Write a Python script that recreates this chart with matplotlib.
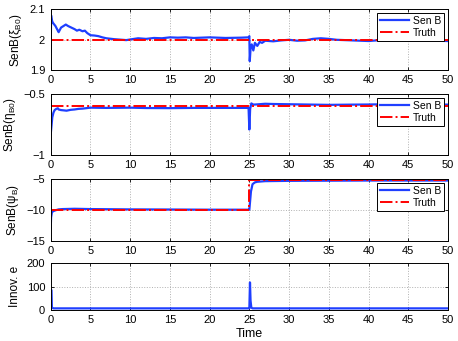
import matplotlib
matplotlib.use("Agg")
import matplotlib.pyplot as plt

plt.rcParams['font.family'] = ['Liberation Sans', 'DejaVu Sans']
plt.rcParams['mathtext.fontset'] = 'custom'
plt.rcParams['mathtext.rm'] = 'Liberation Sans'
plt.rcParams['mathtext.it'] = 'Liberation Sans'

# ---- data ----
xi_t = [0, 0.05, 0.1, 0.2, 0.3, 0.45, 0.6, 0.8, 1.0, 1.1, 1.3, 1.6, 1.9, 2.2, 2.6, 3.0, 3.3, 3.6, 4.0, 4.3,
        4.6, 5.0, 5.5, 6.0, 6.5, 7.0, 8.0, 9.0, 9.5, 10.0, 11.0, 12.0, 13.0, 14.0, 15.0, 16.0, 17.0, 18.0,
        20.0, 22.0, 24.0, 24.9, 25.0, 25.05, 25.15, 25.3, 25.5, 25.7, 26.0, 26.3, 26.6, 27.0, 28.0, 29.0,
        30.0, 31.0, 32.0, 33.0, 34.0, 35.0, 36.0, 37.0, 38.0, 40.0, 41.0, 42.0, 44.0, 46.0, 48.0, 50.0]
xi_v = [1.96, 2.08, 2.07, 2.06, 2.055, 2.05, 2.045, 2.035, 2.025, 2.03, 2.04, 2.045, 2.05, 2.045, 2.04,
        2.035, 2.03, 2.033, 2.028, 2.03, 2.022, 2.015, 2.014, 2.012, 2.008, 2.005, 2.002, 2.0, 1.999,
        2.001, 2.005, 2.003, 2.006, 2.005, 2.008, 2.007, 2.008, 2.006, 2.008, 2.006, 2.007, 2.008, 2.012,
        1.93, 1.97, 1.985, 1.965, 1.99, 1.98, 1.993, 1.99, 1.997, 1.995, 1.998, 2.0, 1.997, 1.998,
        2.003, 2.005, 2.003, 2.0, 1.999, 1.998, 1.996, 1.998, 1.997, 1.998, 1.997, 1.997, 1.996]
xi_truth = 2.0

eta_t = [0, 0.1, 0.2, 0.35, 0.5, 0.7, 0.9, 1.0, 1.3, 1.6, 2.0, 2.5, 3.0, 3.5, 4.0, 5.0, 7.0, 10.0, 12.0,
         15.0, 18.0, 20.0, 24.9, 25.0, 25.1, 25.25, 25.5, 26.0, 27.0, 28.0, 30.0, 33.0, 35.0, 38.0, 40.0,
         42.0, 45.0, 48.0, 50.0]
eta_v = [-0.83, -0.76, -0.69, -0.65, -0.63, -0.62, -0.615, -0.625, -0.63, -0.632, -0.635, -0.628,
         -0.625, -0.62, -0.618, -0.61, -0.612, -0.61, -0.613, -0.614, -0.612, -0.612, -0.612, -0.79,
         -0.62, -0.575, -0.585, -0.583, -0.578, -0.58, -0.582, -0.585, -0.587, -0.585, -0.584, -0.582,
         -0.583, -0.584, -0.585]
eta_truth = -0.594

psi_t = [0, 0.05, 0.15, 0.3, 0.6, 1.0, 1.5, 3.0, 5.0, 10.0, 15.0, 20.0, 24.9, 25.0, 25.2, 25.4, 25.7,
         26.0, 27.0, 30.0, 40.0, 50.0]
psi_v = [-13.0, -11.2, -10.4, -10.2, -10.05, -9.9, -9.85, -9.8, -9.85, -9.9, -9.92, -9.95, -9.95,
         -9.95, -7.0, -5.8, -5.5, -5.4, -5.3, -5.25, -5.2, -5.2]
psi_truth_t = [0, 25, 25, 50]
psi_truth_v = [-10.0, -10.0, -5.12, -5.12]

inn_t = [0, 0.1, 0.15, 0.25, 0.4, 5, 10, 15, 20, 24.95, 25.0, 25.08, 25.15, 25.25, 25.4, 30, 35, 40, 45, 50]
inn_v = [85, 85, 12, 8, 7, 7, 7, 7, 7, 7, 7, 118, 40, 10, 7, 7, 7, 7, 7, 7]

xticks = list(range(0, 51, 5))

# ---- figure ----
W, H = 458, 341
fig = plt.figure(figsize=(W / 100, H / 100), dpi=100)

def ax_at(top, bottom, left=50.7, right=448):
    return fig.add_axes([left / W, 1 - bottom / H, (right - left) / W, (bottom - top) / H])

blue = '#1f3fff'
red = '#ff0000'

def style(ax, ylim, yticks, ylabel):
    ax.set_xlim(0, 50)
    ax.set_ylim(*ylim)
    ax.set_xticks(xticks)
    ax.set_yticks(yticks)
    ax.set_xticklabels([str(x) for x in xticks])
    ax.grid(True, linestyle=':', color='#b0b0b0', linewidth=0.7)
    ax.tick_params(axis='both', direction='in', length=2.5, width=0.6, labelsize=8,
                   top=True, right=True)
    ax.tick_params(axis='y', pad=4)
    ax.tick_params(axis='x', pad=3.5)
    for s in ax.spines.values():
        s.set_linewidth(0.7)
    ax.set_ylabel(ylabel, fontsize=8.5, labelpad=4)

def legend(ax):
    leg = ax.legend(loc='upper right', fontsize=7.5, fancybox=False, framealpha=1,
                    edgecolor='black', handlelength=2.8, borderaxespad=0.35,
                    borderpad=0.3, labelspacing=0.15, handletextpad=0.4)
    leg.get_frame().set_linewidth(0.7)

ax1 = ax_at(9.3, 70.3)
ax1.plot(xi_t, xi_v, color=blue, lw=1.6, label='Sen B')
ax1.plot([0, 50], [xi_truth, xi_truth], color=red, lw=1.4, ls='-.', label='Truth')
style(ax1, (1.9, 2.1), [1.9, 2.0, 2.1], r'SenB($\xi_{B0}$)')
ax1.set_yticklabels(['1.9', '2', '2.1'])
legend(ax1)

ax2 = ax_at(94.3, 155)
ax2.plot(eta_t, eta_v, color=blue, lw=1.6, label='Sen B')
ax2.plot([0, 50], [eta_truth, eta_truth], color=red, lw=1.4, ls='-.', label='Truth')
style(ax2, (-1, -0.5), [-1, -0.5], r'SenB($\eta_{B0}$)')
ax2.set_yticklabels(['\u22121', '\u22120.5'])
legend(ax2)

ax3 = ax_at(179.3, 240.7)
ax3.plot(psi_t, psi_v, color=blue, lw=1.6, label='Sen B')
ax3.plot(psi_truth_t, psi_truth_v, color=red, lw=1.4, ls='-.', label='Truth')
style(ax3, (-15, -5), [-15, -10, -5], r'SenB($\psi_{B}$)')
ax3.set_yticklabels(['\u221215', '\u221210', '\u22125'])
legend(ax3)

ax4 = ax_at(263.3, 310)
ax4.plot(inn_t, inn_v, color=blue, lw=1.6)
style(ax4, (0, 200), [0, 100, 200], 'Innov. e')
ax4.set_xlabel('Time', fontsize=9, labelpad=2)

fig.savefig('out.png', dpi=100)
